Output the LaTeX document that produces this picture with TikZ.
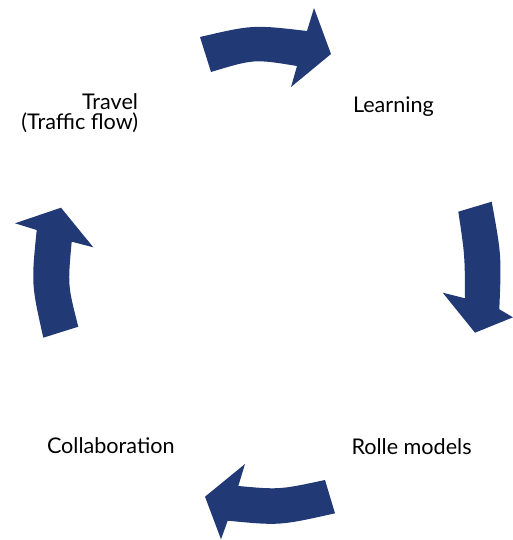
\documentclass[tikz,border=0pt]{standalone}
\usepackage{fontspec}
\setmainfont{Lato}
\definecolor{arrowblue}{RGB}{33,57,117}
\begin{document}
\begin{tikzpicture}[x=1pt,y=-1pt,
  cyc/.style={fill=arrowblue,draw=none},
  lbl/.style={inner sep=0pt,outer sep=0pt,font=\fontsize{21.6}{20}\selectfont,text=black}]
\useasboundingbox (0,0) rectangle (513,540);
% top arrow (towards Learning)
\fill[cyc] (200,37) .. controls (252.8,24.7) .. (307,31) -- (314,8) -- (331,54) -- (291,87) -- (297,66)
  .. controls (254,59) .. (211,72) -- cycle;
% right arrow (towards Rolle models)
\fill[cyc] (458.3,211.7) -- (491.7,201.7) .. controls (501.5,255.5) .. (499.3,309.3) -- (513,317.3) -- (475,332.7)
  -- (442.7,292.7) -- (465,298.3) .. controls (464.8,255) .. cycle;
% bottom arrow (towards Collaboration)
\fill[cyc] (335,513.3) -- (325,480) .. controls (279.5,489.7) .. (238.3,486) -- (245,464) -- (205,496.7)
  -- (221,539.3) -- (227.7,520.7) .. controls (279.6,525.7) .. cycle;
% left arrow (towards Travel)
\fill[cyc] (43.3,337.7) -- (78.3,326.7) .. controls (67.7,285.3) .. (71.7,241.7) -- (93.3,247.3) -- (61,207.7)
  -- (15,223.3) -- (36.7,230) .. controls (31.3,284) .. cycle;
% labels
\node[lbl,anchor=base west] (learning) at (353,113) {Learning};
\node[lbl,anchor=base west] (rolle) at (351.5,454) {Rolle models};
\node[lbl,anchor=base west] (collab) at (47,453) {Collaboration};
\node[lbl,anchor=base east,align=right] (travel) at (138,129.7) {Travel\\(Traffic flow)};
\end{tikzpicture}
\end{document}
